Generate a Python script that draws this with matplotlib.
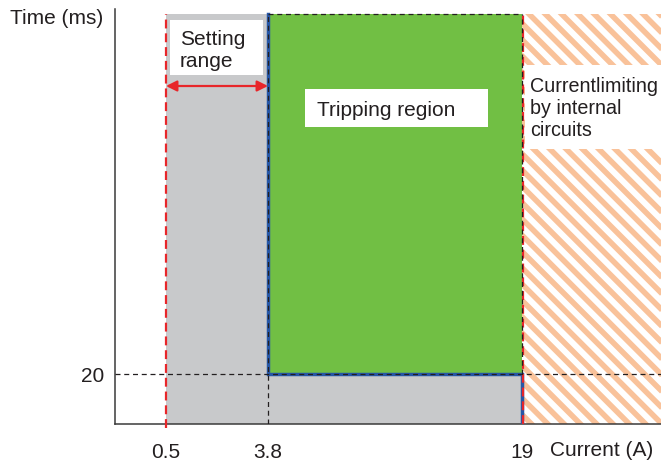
import numpy as np
import matplotlib
matplotlib.use("Agg")
import matplotlib.pyplot as plt
from matplotlib.patches import Rectangle
from matplotlib.collections import LineCollection
from matplotlib.scale import FuncScale

# --- chart values -----------------------------------------------------------
current_ticks = [0.5, 3.8, 19]          # A
current_tick_labels = ["0.5", "3.8", "19"]
time_ticks = [20]                        # ms
time_tick_labels = ["20"]

setting_range = (0.5, 3.8)               # adjustable trip current, A
trip_current = 3.8                       # A
limit_current = 19                       # A, internal current limiting
trip_time = 20                           # ms
current_max = 30                         # A, right end of axis
time_max = 166                           # ms, top of axis
region_top = 164                         # ms, top of shaded regions

# schematic (non-linear) current axis: knots -> relative positions
current_knots = [0, 0.5, 3.8, 19, 30]
position_knots = [0, 51, 153, 407, 546]

# --- style ------------------------------------------------------------------
FONT = "Liberation Sans"
FS = 15
TXT = "#231f20"
GRAY = "#c8c9cb"
GREEN = "#71bf44"
ORANGE = "#f9c29a"
RED = "#e8262a"
BLUE = "#2757a6"
DASH = "#231f20"

plt.rcParams["font.family"] = [FONT, "DejaVu Sans"]

W, H = 661, 464
fig = plt.figure(figsize=(W / 100, H / 100), dpi=100)
ax = fig.add_axes([115 / W, 1 - 425 / H, (W - 115) / W, (425 - 10) / H])


def fwd(x):
    return np.interp(x, current_knots, position_knots)


def inv(p):
    return np.interp(p, position_knots, current_knots)


ax.set_xscale(FuncScale(ax.xaxis, (fwd, inv)))
ax.set_xlim(0, current_max)
ax.set_ylim(0, time_max)


def px(x, y):
    """figure-fraction coordinates from a top-left pixel position"""
    return x / W, 1 - y / H


# --- regions ----------------------------------------------------------------
ax.fill_between(list(setting_range), 0, region_top, color=GRAY, lw=0, zorder=1)
ax.fill_between([trip_current, limit_current], 0, trip_time, color=GRAY, lw=0, zorder=1)
ax.fill_between([trip_current, limit_current], trip_time, region_top,
                color=GREEN, lw=0, zorder=1)

# current-limiting region: white with diagonal orange stripes
limit_box = Rectangle((limit_current, 0), current_max - limit_current, region_top,
                      facecolor="white", edgecolor="none", zorder=1)
ax.add_patch(limit_box)
period = 16.3 / 100                      # stripe spacing along x, inches
segs = []
for k in np.arange(0, (W + H) / 100 + period, period):
    segs.append([(k - H / 100, H / 100), (k, 0)])
stripes = LineCollection(segs, colors=ORANGE, linewidths=4.0,
                         transform=fig.dpi_scale_trans, zorder=1.5)
ax.add_collection(stripes, autolim=False)
stripes.set_clip_path(limit_box)

# white label boxes
for (x0, y0, x1, y1) in [(170, 21, 263, 76), (305, 90, 488, 128), (525, 66, 661, 150)]:
    fx0, fy1 = px(x0, y0)
    fx1, fy0 = px(x1, y1)
    ax.add_patch(Rectangle((fx0, fy0), fx1 - fx0, fy1 - fy0, transform=fig.transFigure,
                           facecolor="white", edgecolor="none", zorder=2))

# --- boundary lines ---------------------------------------------------------
ax.plot([trip_current, trip_current, limit_current, limit_current],
        [region_top, trip_time, trip_time, 0], color=BLUE, lw=2.5, zorder=3,
        solid_joinstyle="miter")

red_kw = dict(color=RED, lw=1.6, dashes=(4, 2.2), zorder=4)
ax.plot([setting_range[0]] * 2, [-1.6, region_top], clip_on=False, **red_kw)
ax.plot([limit_current + 0.08] * 2, [0, region_top], **red_kw)

dash_kw = dict(color=DASH, lw=0.9, dashes=(4, 3), zorder=5)
ax.plot([trip_current] * 2, [0, region_top], **dash_kw)
ax.plot([trip_current, limit_current], [region_top, region_top], **dash_kw)
ax.plot([limit_current] * 2, [trip_time, region_top], **dash_kw)
ax.plot([0, current_max], [trip_time, trip_time], **dash_kw)

# setting-range arrow
arrow_y = (425 - 87) / 2.5
ax.annotate("", xy=(setting_range[1], arrow_y), xytext=(setting_range[0], arrow_y),
            arrowprops=dict(arrowstyle="<|-|>", color=RED, lw=1.6,
                            mutation_scale=16, shrinkA=0, shrinkB=0),
            zorder=6)

# --- labels -----------------------------------------------------------------
ax.text(*px(180, 30), "Setting\nrange", transform=fig.transFigure, ha="left", va="top",
        fontsize=FS, color=TXT, linespacing=1.2, zorder=7)
ax.text(*px(317, 101), "Tripping region", transform=fig.transFigure, ha="left", va="top",
        fontsize=FS, color=TXT, zorder=7)
ax.text(*px(530, 77), "Currentlimiting\nby internal\ncircuits", transform=fig.transFigure,
        ha="left", va="top", fontsize=14.2, color=TXT, linespacing=1.2, zorder=7)

fig.text(*px(10, 9), "Time (ms)", ha="left", va="top", fontsize=FS, color=TXT)
fig.text(*px(550, 441), "Current (A)", ha="left", va="top", fontsize=FS, color=TXT)

# --- axes -------------------------------------------------------------------
for side in ("top", "right"):
    ax.spines[side].set_visible(False)
for side in ("left", "bottom"):
    ax.spines[side].set_color("#3a3a3a")
    ax.spines[side].set_linewidth(1.1)
ax.set_xticks(current_ticks, current_tick_labels)
ax.set_yticks(time_ticks, time_tick_labels)
ax.tick_params(axis="x", length=0, pad=13, labelsize=FS, labelcolor=TXT)
ax.tick_params(axis="y", length=0, pad=8, labelsize=FS, labelcolor=TXT)
ax.minorticks_off()

fig.savefig("out.png", dpi=100)
